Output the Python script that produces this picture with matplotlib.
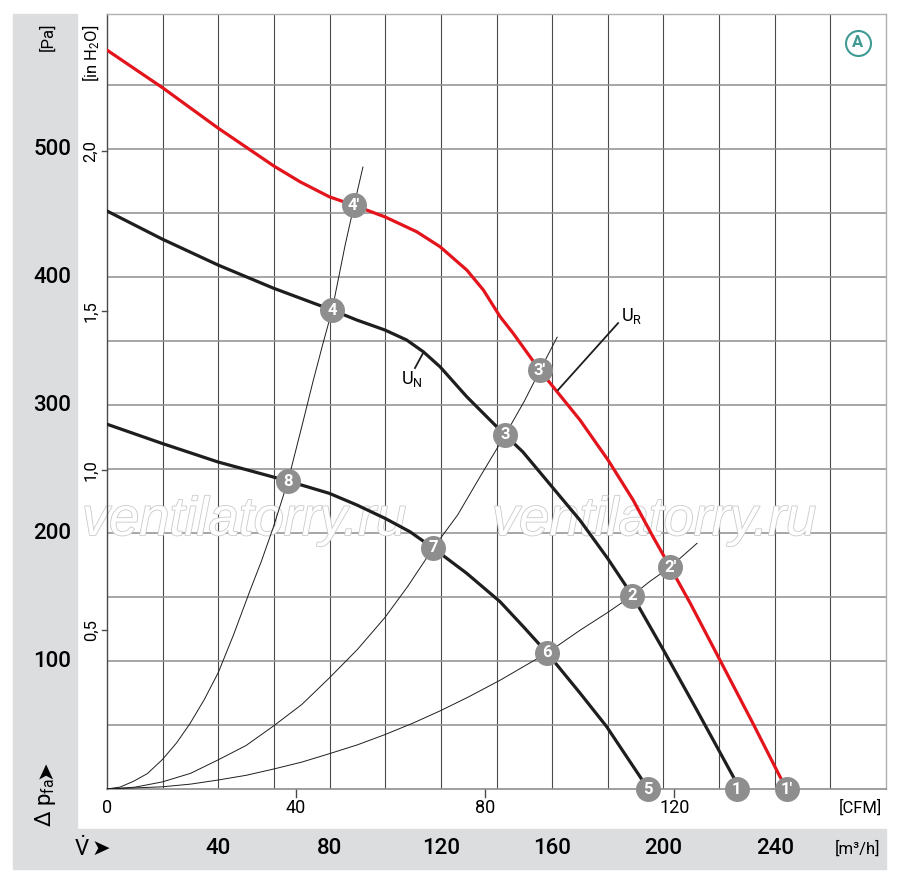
import numpy as np
import matplotlib
matplotlib.use('Agg')
import matplotlib.pyplot as plt
import matplotlib.patheffects as pe
from matplotlib.patches import Rectangle

plt.rcParams['font.family'] = ['Liberation Sans Narrow', 'DejaVu Sans Condensed', 'Roboto', 'DejaVu Sans']
plt.rcParams['mathtext.fontset'] = 'custom'
plt.rcParams['mathtext.rm'] = 'Roboto'
plt.rcParams['mathtext.it'] = 'Roboto'

# fan curves, flow in m3/h, pressure in Pa
ur_flow = [0, 20.1, 39.9, 60.0, 69.4, 79.9, 88.8, 99.9, 111.3, 119.7, 129.3, 135.3, 141.3,
           146, 155.6, 170.0, 180.1, 189.1, 196.3, 202.4, 209.6, 220.3, 232, 241.9, 244.4]
ur_pa = [577.3, 547.7, 516.4, 486.7, 474.4, 462.7, 456, 447, 435.4, 423.7, 405.5, 389.8, 369,
         356, 327, 288.3, 257, 225.8, 196.9, 173.4, 145.3, 100.8, 52, 9.6, 0]

un_flow = [0, 19.8, 39.9, 59.7, 80.9, 89.8, 99.9, 107.7, 113.7, 119.7, 129.3, 140.1, 143.1, 149.5,
           160.0, 170.0, 180.0, 188.7, 200.0, 212.0, 225.1, 227.5]
un_pa = [451.6, 429.7, 409.4, 391.4, 374.2, 366.4, 358.6, 350.8, 341.6, 329.9, 306.5, 283, 276.6, 263.3,
         236, 210, 180, 151.6, 108.6, 61.7, 9.6, 0]

lo_flow = [0, 19.8, 39.9, 65.1, 79.9, 89.8, 99.9, 108.9, 117.2, 129.3, 141.3, 150, 158.2,
           170.0, 179.6, 186.8, 191.6, 194.5]
lo_pa = [285, 270, 255.5, 240.6, 231, 221.9, 211.5, 201, 188.3, 168.5, 146.3, 126, 106.3,
         75, 48.7, 25.2, 9.6, 0]

# system curves
sa_flow = [0, 4.7, 9.5, 14.5, 19.9, 25, 29.8, 35, 40, 45.4, 51.4, 55.5, 59.7, 65.1, 70, 74,
           77.5, 80.9, 85.6, 88.8, 92.0]
sa_pa = [0, 1.5, 6, 12, 23, 36, 51, 70, 91, 120, 155, 178, 204, 241, 283, 318,
         347, 374, 425, 456, 486]

sb_flow = [0, 10, 19.8, 30, 39.9, 50, 59.7, 70, 79.8, 90, 99.9, 108, 117.2, 126, 134.1, 143.1,
           150, 155.6, 161.8]
sb_pa = [0, 1.4, 5.5, 12.2, 22.7, 34, 49, 66, 86.5, 109, 134, 158, 188, 214, 244, 276.6,
         303, 327, 353]

sc_flow = [0, 19.8, 30, 39.9, 50, 59.7, 70, 79.8, 90, 99.9, 110, 119.7, 130, 141.3, 150, 158.2,
           170, 180, 188.7, 195, 202.4, 212.1]
sc_pa = [0, 1.7, 3.8, 7, 10.7, 15.5, 21, 27.5, 34.5, 42.5, 51.5, 61, 72, 85, 96, 106.3,
         124, 138, 151, 162, 173.4, 192]

mk_label = ['1', "1'", '2', "2'", '3', "3'", '4', "4'", '5', '6', '7', '8']
mk_flow = [226.3, 244.4, 188.7, 202.4, 143.1, 155.6, 80.9, 88.8, 194.5, 158.2, 117.2, 65.1]
mk_pa = [0, 0, 151, 173.4, 276.6, 327, 374.2, 456, 0, 106.3, 188.3, 240.6]

pa_ticks = [100, 200, 300, 400, 500]
inh2o_ticks = [0.5, 1.0, 1.5, 2.0]
inh2o_labels = ['0,5', '1,0', '1,5', '2,0']
cfm_ticks = [0, 40, 80, 120]
m3h_ticks = [40, 80, 120, 160, 200, 240]

PA_PER_INH2O = 249.09
M3H_PER_CFM = 1.699

red = '#e3141c'
dark = '#1e1e1e'
band = '#dcdddf'
teal = '#3f9a93'
arrow_font = ['DejaVu Sans']

fig = plt.figure(figsize=(9, 8.8), dpi=100)

# grey bands
fig.patches.append(Rectangle((13 / 900, 1 - 829 / 880), 64 / 900, 815 / 880,
                             transform=fig.transFigure, color=band, zorder=-5))
fig.patches.append(Rectangle((13 / 900, 1 - 869 / 880), 873 / 900, 40 / 880,
                             transform=fig.transFigure, color=band, zorder=-5))

ax = fig.add_axes([107 / 900, 1 - 789 / 880, 779 / 900, 775 / 880])
ax.set_xlim(0, 280)
ax.set_ylim(0, 605.5)

ax.set_xticks(np.arange(20, 261, 20))
ax.set_yticks(np.arange(50, 551, 50))
ax.tick_params(length=0, labelbottom=False, labelleft=False)
ax.grid(axis='x', color='#4a4a4a', linewidth=0.8)
ax.grid(axis='y', color='#8e8e8e', linewidth=1.1)
ax.set_axisbelow(True)
for s in ['top', 'right']:
    ax.spines[s].set_color('#b0b0b0')
ax.spines['left'].set_color('#4a4a4a')
ax.spines['bottom'].set_color('#8e8e8e')
for s in ax.spines.values():
    s.set_linewidth(1.0)
ax.spines['bottom'].set_linewidth(1.2)

# watermark
for wx in [244, 654]:
    ax.text(wx / 900, 1 - 535 / 880, 'ventilatorry.ru', fontsize=39, style='italic',
            family=['Liberation Sans', 'DejaVu Sans'], ha='center', va='baseline',
            color='white', zorder=1.5, transform=fig.transFigure,
            path_effects=[pe.Stroke(linewidth=1.2, foreground='#cacaca'), pe.Normal()])

# system curves
for fx, fy in [(sa_flow, sa_pa), (sb_flow, sb_pa), (sc_flow, sc_pa)]:
    ax.plot(fx, fy, color=dark, linewidth=0.7, zorder=3)

ax.plot(lo_flow, lo_pa, color=dark, linewidth=2.3, zorder=4, solid_joinstyle='round')
ax.plot(un_flow, un_pa, color=dark, linewidth=2.3, zorder=4, solid_joinstyle='round')
ax.plot(ur_flow, ur_pa, color=red, linewidth=2.3, zorder=4, solid_joinstyle='round')

# operating points
for lab, fx, fy in zip(mk_label, mk_flow, mk_pa):
    ax.plot(fx, fy, 'o', ms=18, color='#8e8e8e', mec='none', zorder=6, clip_on=False)
    ax.text(fx, fy, lab, color='white', fontsize=12, fontweight='bold',
            ha='center', va='center', zorder=7)

# U_N / U_R labels
ax.plot([113.6, 110.7], [340.6, 328.9], color=dark, linewidth=1.3, zorder=5)
ax.text(109.6, 320, r'U$_\mathrm{N}$', fontsize=13, ha='center', va='center', zorder=7)
ax.plot([162.1, 183.7], [311.7, 364], color=dark, linewidth=1.3, zorder=5)
ax.text(184.6, 369.5, r'U$_\mathrm{R}$', fontsize=13, ha='left', va='center', zorder=7)

# circled A
ax.plot(0.964, 0.9626, 'o', ms=18, mfc='white', mec=teal, mew=1.5,
        transform=ax.transAxes, zorder=7)
ax.text(0.964, 0.9626, 'A', color=teal, fontsize=12, fontweight='bold',
        ha='center', va='center', transform=ax.transAxes, zorder=8)

# left side labels
ytr = ax.get_yaxis_transform()
for v in pa_ticks:
    ax.text(-0.046, v, str(v), transform=ytr, fontsize=16, fontweight='medium',
            ha='right', va='center')
for v, lab in zip(inh2o_ticks, inh2o_labels):
    ax.text(-0.0205, v * PA_PER_INH2O, lab, transform=ytr, fontsize=12,
            rotation=90, ha='center', va='center')
    ax.plot([-0.0065, 0], [v * PA_PER_INH2O] * 2, transform=ytr, color='#4a4a4a',
            linewidth=1.0, clip_on=False)

fig.text(47 / 900, 1 - 37 / 880, '[Pa]', fontsize=12, rotation=90, ha='center', va='center')
fig.text(91 / 900, 1 - 25 / 880, r'[in H$_2$O]', fontsize=12, rotation=90,
         ha='center', va='top')
fig.text(45 / 900, 1 - 803 / 880, r'$\Delta$ p$_\mathrm{fa}$', fontsize=16, rotation=90,
         ha='center', va='center')
fig.text(45 / 900, 1 - 770 / 880, '➤', fontsize=16, rotation=90, family=arrow_font,
         ha='center', va='center')

# bottom labels
xtr = ax.get_xaxis_transform()
for v in cfm_ticks:
    ax.text(v * M3H_PER_CFM, -0.0245, str(v), transform=xtr, fontsize=13,
            ha='center', va='center')
    if v > 0:
        ax.plot([v * M3H_PER_CFM] * 2, [0, -0.0105], transform=xtr, color='#4a4a4a',
                linewidth=1.0, clip_on=False)
fig.text(860 / 900, 1 - 808 / 880, '[CFM]', fontsize=12, ha='center', va='center')

for v in m3h_ticks:
    ax.text(v, -0.0774, str(v), transform=xtr, fontsize=16, fontweight='medium',
            ha='center', va='center')
fig.text(857 / 900, 1 - 849 / 880, '[m³/h]', fontsize=12, ha='center', va='center')
fig.text(82 / 900, 1 - 849 / 880, r'$\dot{\mathrm{V}}$', fontsize=16, ha='center', va='center')
fig.text(101 / 900, 1 - 849 / 880, '➤', fontsize=16, family=arrow_font,
         ha='center', va='center')

plt.savefig('out.png', dpi=100)
